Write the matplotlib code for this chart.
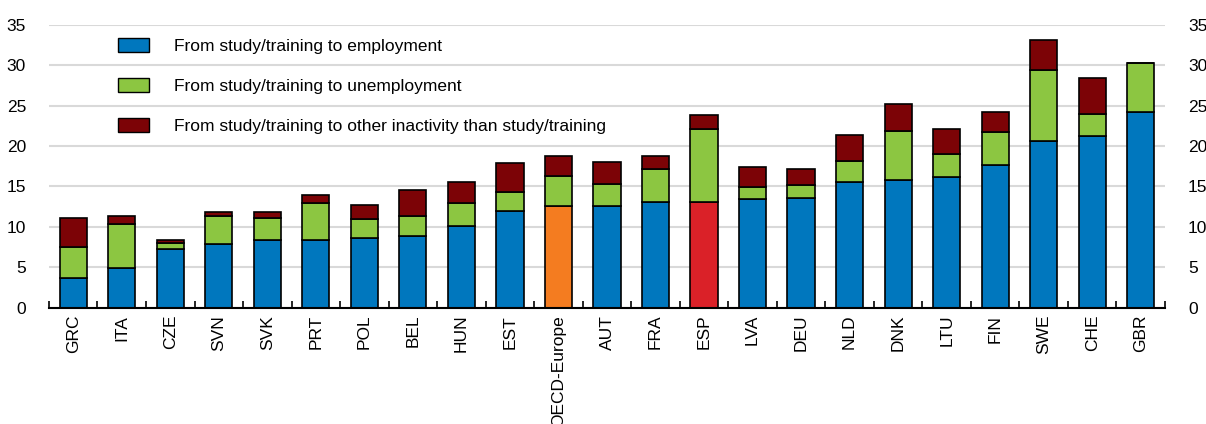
import numpy as np
import matplotlib
matplotlib.use("Agg")
import matplotlib.pyplot as plt

plt.rcParams['font.family'] = ['Liberation Sans', 'DejaVu Sans']

# 国家 / 数据
countries = ['GRC', 'ITA', 'CZE', 'SVN', 'SVK', 'PRT', 'POL', 'BEL', 'HUN', 'EST',
             'OECD-Europe', 'AUT', 'FRA', 'ESP', 'LVA', 'DEU', 'NLD', 'DNK', 'LTU',
             'FIN', 'SWE', 'CHE', 'GBR']
# 累计高度
top_emp = [3.7, 4.9, 7.3, 7.9, 8.4, 8.4, 8.6, 8.9, 10.1, 12.0,
           12.6, 12.6, 13.1, 13.1, 13.5, 13.6, 15.6, 15.8, 16.2,
           17.7, 20.6, 21.2, 24.2]
top_unemp = [7.5, 10.4, 8.0, 11.4, 11.1, 12.9, 11.0, 11.4, 13.0, 14.3,
             16.3, 15.3, 17.2, 22.1, 14.9, 15.2, 18.2, 21.8, 19.0,
             21.7, 29.4, 24.0, 30.2]
top_inact = [11.1, 11.3, 8.4, 11.9, 11.9, 13.9, 12.7, 14.5, 15.5, 17.9,
             18.7, 18.0, 18.8, 23.8, 17.4, 17.2, 21.3, 25.2, 22.1,
             24.2, 33.1, 28.4, 30.2]

labels = ['From study/training to employment',
          'From study/training to unemployment',
          'From study/training to other inactivity than study/training']

emp = np.array(top_emp)
unemp = np.array(top_unemp) - emp
inact = np.array(top_inact) - np.array(top_unemp)

blue = '#0077BE'
green = '#8CC641'
dred = '#7C0306'
x = np.arange(len(countries))

emp_colors = [blue] * len(countries)
emp_colors[countries.index('OECD-Europe')] = '#F47C20'
emp_colors[countries.index('ESP')] = '#DA2128'

fig = plt.figure(figsize=(12.06, 4.24), dpi=100)
ax = fig.add_axes([0.0406, 0.274, 0.9254, 0.668])

w = 0.56
ax.bar(x, emp, w, color=emp_colors, edgecolor='black', linewidth=1.2, zorder=3)
ax.bar(x, unemp, w, bottom=emp, color=green, edgecolor='black', linewidth=1.2, zorder=3)
ax.bar(x, inact, w, bottom=emp + unemp, color=dred, edgecolor='black', linewidth=1.2, zorder=3)

# 图例用的方块
h1 = plt.Rectangle((0, 0), 1, 1, facecolor=blue, edgecolor='black', linewidth=1)
h2 = plt.Rectangle((0, 0), 1, 1, facecolor=green, edgecolor='black', linewidth=1)
h3 = plt.Rectangle((0, 0), 1, 1, facecolor=dred, edgecolor='black', linewidth=1)
ax.legend([h1, h2, h3], labels, loc='upper left', bbox_to_anchor=(0.062, 0.951),
          frameon=False, fontsize=12.5, borderpad=0, borderaxespad=0,
          handlelength=1.78, handleheight=0.85, handletextpad=1.45, labelspacing=1.37)

ax.set_xlim(-0.5, len(countries) - 0.5)
ax.set_ylim(0, 35)
ax.set_yticks(range(0, 36, 5))
ax.yaxis.grid(True, color='#D9D9D9', linewidth=1.5, zorder=0)
ax.set_axisbelow(True)

for s in ['left', 'right', 'top']:
    ax.spines[s].set_visible(False)
ax.spines['bottom'].set_linewidth(1.5)
ax.spines['bottom'].set_zorder(4)

ax.set_xticks(x)
ax.set_xticklabels(countries, rotation=90, fontsize=12.5)
ax.set_xticks(np.arange(-0.5, len(countries), 1), minor=True)
ax.tick_params(axis='x', which='major', length=0, pad=5)
ax.tick_params(axis='x', which='minor', direction='in', length=5, width=1.2)
ax.tick_params(axis='y', left=False, right=False, labelleft=True, labelright=True,
               labelsize=12.5, pad=13)

plt.savefig('out.png', dpi=100)
